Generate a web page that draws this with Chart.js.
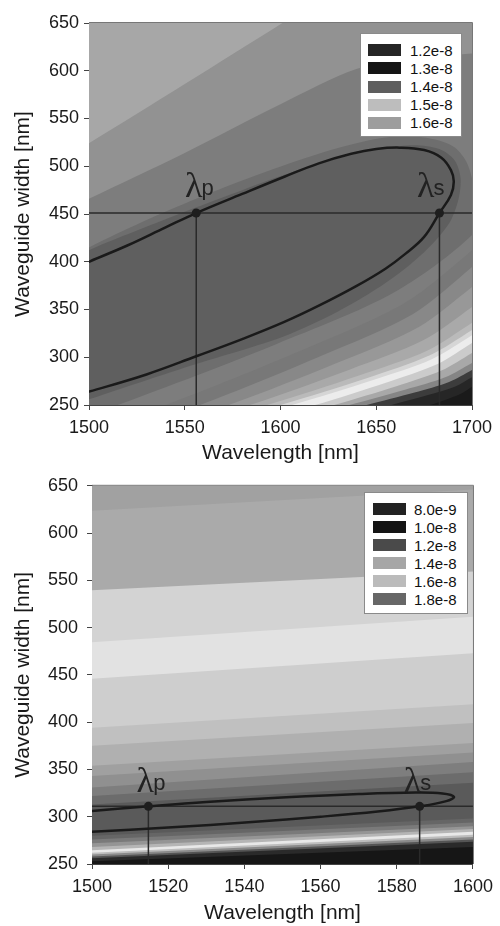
<!DOCTYPE html>
<html>
<head>
<meta charset="utf-8">
<script src="https://cdn.jsdelivr.net/npm/chart.js@4.4.1/dist/chart.umd.min.js"></script>
<style>
  body { margin: 0; background: #fff; font-family: 'Liberation Sans', Arial, sans-serif; }
  .panel { position: relative; width: 500px; }
  canvas { display: block; }
  .legend { position: absolute; background: #fff; border: 1px solid #8a8a8a; box-sizing: border-box; }
  .legend .sw { position: absolute; width: 33px; height: 12px; }
  .legend .lb { position: absolute; font-size: 15px; line-height: 15px; color: #111; white-space: nowrap; }
</style>
</head>
<body>
<div class="panel" id="panel1" style="height:466px"><canvas id="c1" width="500" height="466"></canvas></div>
<div class="panel" id="panel2" style="height:460px"><canvas id="c2" width="500" height="460"></canvas></div>
<script>
const FONT = "'Liberation Sans', Arial, sans-serif";

// ---------- top panel (1500-1700 nm) ----------
const p1XRange = [1500, 1700];
const p1YRange = [250, 650];
const p1XStep = 50;
const p1Background = '#a7a7a7';
// filled contour regions, painted in this order (each one over the previous)
const p1Regions = [
  [[1480,500],[1500,524],[1550,586],[1601,650],[1625,680],[1760,680],[1760,200],[1480,200]],
  [[1480,446],[1500,466],[1550,514],[1600,565],[1640,602],[1670,612],[1700,618],[1720,621],[1760,621],[1760,200],[1480,200]],
  [[1480,392],[1500,415],[1528,442],[1556,466],[1580,485],[1602,501],[1630,519],[1655,530],[1675,530],[1690,521],[1697,505],[1701,480],[1704,455],[1700,428],[1659,367.5],[1598,314],[1515,250],[1495,238],[1480,228]],
  [[1480,243],[1500,256],[1530,276],[1556,293],[1584,310],[1602,322],[1630,348],[1655,378],[1675,410],[1688,440],
   [1693,466],[1694,488],[1691,506],[1683,518],[1670,522],[1655,519],[1630,508],[1602,491],[1580,475],[1556,457],[1528,435],[1500,412],[1480,390]],
  [[1520,240],[1540,250],[1612,308],[1665,357],[1700,412],[1710,432],[1790,200]],
  [[1538,240],[1558,250],[1622,302],[1669,345],[1700,394.5],[1710,414],[1790,200]],
  [[1553,240],[1573,250],[1630,294.5],[1672,331.5],[1700,373.6],[1710,391],[1790,200]],
  [[1564,240],[1584,250],[1636,287],[1674.5,317.7],[1700,352.6],[1710,368],[1790,200]],
  [[1573,240],[1593,250],[1641,281],[1676.5,306.8],[1700,336],[1710,350],[1790,200]],
  [[1580,240],[1600,250],[1645,278],[1678,302],[1700,328.5],[1710,342],[1790,200]],
  [[1586,240],[1606,250],[1648,276],[1679,298],[1700,323],[1710,336],[1790,200]],
  [[1598,240],[1618,250],[1655,273.4],[1682,293],[1700,315],[1710,327],[1790,200]],
  [[1608,240],[1628,250],[1660.5,269.6],[1684,286],[1700,304.5],[1710,316],[1790,200]],
  [[1616,240],[1636,250],[1665,266],[1686,279],[1700,294],[1710,305],[1790,200]],
  [[1625,240],[1645,250],[1670,263],[1688,274],[1700,286.6],[1710,297],[1790,200]],
  [[1638,240],[1658,250],[1677,260.4],[1691,269],[1700,279],[1710,289],[1790,200]],
  [[1658,242],[1678,250],[1688,256.8],[1695,262.5],[1700,269],[1710,279],[1790,200]]
];
const p1RegionColors = ['#929292','#7d7d7d','#6e6e6e','#5f5f5f','#787878','#888888','#989898','#a9a9a9',
  '#bababa','#d6d6d6','#ececec','#cbcbcb','#a8a8a8','#858585','#3c3c3c','#262626','#1a1a1a'];
const p1Loop = [[1490,391],[1500,400],[1520,417],[1540,436],[1556,451],[1580,471],[1602,489],[1620,503],
  [1637,513],[1650,518],[1662,519.5],[1675,517],[1684,509],[1689,496],[1690.5,484],[1689,470],[1683,451],
  [1675,426],[1665,408],[1655,393],[1640,375],[1620,354],[1602,337],[1580,319],[1556,301],[1530,282],
  [1500,264],[1490,258.5]];
const p1Level = 451;
const p1Points = [1556, 1683];
const p1LamX = [1550.1, 1671.3];
const p1LamY = [467.8, 467.8];
const p1LamSub = ['p', 's'];
const p1LegendLabels = ['1.2e-8', '1.3e-8', '1.4e-8', '1.5e-8', '1.6e-8'];
const p1LegendColors = ['#262626', '#151515', '#5e5e5e', '#bdbdbd', '#9d9d9d'];

// ---------- bottom panel (1500-1600 nm) ----------
const p2XRange = [1500, 1600];
const p2YRange = [250, 650];
const p2XStep = 20;
const p2Background = '#a1a1a1';
// contour boundaries: value at left edge / right edge, colour of the band below
const p2Left  = [623.5, 539.4, 484.4, 446, 394, 375, 354, 343, 331, 322, 313, 280, 276, 272, 268, 264.5, 262, 260, 258, 256, 253];
const p2Right = [646, 559.4, 511.4, 473, 419, 399, 378, 368, 358, 347, 336, 298, 294, 290, 287, 284, 281, 278.5, 276, 273.5, 268];
const p2Colors = ['#aaaaaa','#d3d3d3','#e2e2e2','#cecece','#c0c0c0','#b0b0b0','#a0a0a0','#909090','#7e7e7e','#6c6c6c',
  '#5a5a5a','#666666','#7a7a7a','#959595','#b5b5b5','#e8e8e8','#bdbdbd','#8a8a8a','#555555','#2a2a2a','#161616'];
const p2Loop = [[1490,302],[1500,306],[1515,311],[1530,315.5],[1551,320.5],[1570,324],[1585,325.5],[1592,324.5],
  [1595,321],[1593,316.5],[1586,311],[1575,305.5],[1560,300],[1542,294.5],[1520,288.5],[1500,284],[1490,282]];
const p2Level = 311;
const p2Points = [1514.8, 1586];
const p2LamX = [1511.7, 1581.8];
const p2LamY = [326.6, 326.6];
const p2LamSub = ['p', 's'];
const p2LegendLabels = ['8.0e-9', '1.0e-8', '1.2e-8', '1.4e-8', '1.6e-8', '1.8e-8'];
const p2LegendColors = ['#222222', '#141414', '#4a4a4a', '#a6a6a6', '#bbbbbb', '#676767'];

const xy = p => ({x: p[0], y: p[1]});

function regionSets(regions, colors, tension) {
  return regions.map((pts, i) => ({
    data: pts.map(xy),
    backgroundColor: colors[i],
    borderWidth: 0,
    pointRadius: 0,
    fill: 'shape',
    tension: tension,
    order: 200 - i
  }));
}

function markSets(loop, level, xr, yr, pts) {
  const sets = [];
  sets.push({ data: loop.map(xy), borderColor: '#1a1a1a', borderWidth: 2.5, pointRadius: 0, tension: 0.4, fill: false, order: 2, clip: 0 });
  sets.push({ data: [{x: xr[0], y: level}, {x: xr[1], y: level}], borderColor: '#2a2a2a', borderWidth: 1.5, pointRadius: 0, fill: false, order: 3, clip: 0 });
  pts.forEach(px => {
    sets.push({ data: [{x: px, y: level}, {x: px, y: yr[0]}], borderColor: '#2a2a2a', borderWidth: 1.5, pointRadius: 0, fill: false, order: 3, clip: 0 });
  });
  sets.push({ data: pts.map(px => ({x: px, y: level})), showLine: false, pointRadius: 4.5, pointBackgroundColor: '#1e1e1e', pointBorderWidth: 0, order: 1 });
  return sets;
}

const panelDeco = {
  id: 'panelDeco',
  beforeDatasetsDraw(chart, args, opts) {
    const a = chart.chartArea, ctx = chart.ctx;
    ctx.save();
    ctx.fillStyle = opts.background;
    ctx.fillRect(a.left, a.top, a.right - a.left, a.bottom - a.top);
    ctx.restore();
  },
  afterDatasetsDraw(chart, args, opts) {
    const ctx = chart.ctx, a = chart.chartArea;
    const sx = chart.scales.x, sy = chart.scales.y;
    ctx.save();
    ctx.strokeStyle = '#777';
    ctx.lineWidth = 1;
    ctx.beginPath();
    ctx.moveTo(a.left, a.top - 0.5);
    ctx.lineTo(a.right + 0.5, a.top - 0.5);
    ctx.lineTo(a.right + 0.5, a.bottom);
    ctx.stroke();
    ctx.fillStyle = '#222';
    ctx.textBaseline = 'alphabetic';
    ctx.textAlign = 'left';
    opts.lamX.forEach((v, i) => {
      const x = sx.getPixelForValue(v);
      const y = sy.getPixelForValue(opts.lamY[i]);
      ctx.font = "36px 'Liberation Serif', 'DejaVu Serif', serif";
      ctx.fillText('\u03bb', x, y);
      const w = ctx.measureText('\u03bb').width;
      ctx.font = '22px ' + FONT;
      ctx.fillText(opts.lamSub[i], x + w * 0.95, y - 2);
    });
    ctx.restore();
  }
};

function axis(range, step, title, size, tickPad, titlePad) {
  return {
    type: 'linear', min: range[0], max: range[1],
    ticks: { stepSize: step, font: {family: FONT, size: 18}, color: '#1a1a1a', padding: tickPad,
             maxRotation: 0, autoSkip: false, callback: v => String(v) },
    grid: { drawOnChartArea: false, drawTicks: true, tickLength: 5, color: '#444' },
    border: { display: true, color: '#444', width: 1 },
    title: { display: true, text: title, font: {family: FONT, size: 21}, color: '#1a1a1a', padding: {top: titlePad, bottom: 0} },
    afterFit: s => { if (s.isHorizontal()) s.height = size; else s.width = size; }
  };
}

function makeChart(id, cfg) {
  return new Chart(document.getElementById(id), {
    type: 'line',
    data: { datasets: cfg.datasets },
    options: {
      responsive: false, animation: false, devicePixelRatio: 1,
      layout: { padding: cfg.padding },
      elements: { line: { capBezierPoints: false } },
      plugins: {
        legend: { display: false }, tooltip: { enabled: false },
        panelDeco: { background: cfg.background, lamX: cfg.lamX, lamY: cfg.lamY, lamSub: cfg.lamSub }
      },
      scales: { x: cfg.x, y: cfg.y }
    },
    plugins: [panelDeco]
  });
}

function legend(panelId, labels, colors, box) {
  const el = document.createElement('div');
  el.className = 'legend';
  el.style.left = box.left + 'px';
  el.style.top = box.top + 'px';
  el.style.width = box.width + 'px';
  el.style.height = box.height + 'px';
  labels.forEach((t, i) => {
    const c = 16.3 + box.step * i;
    const sw = document.createElement('div');
    sw.className = 'sw';
    sw.style.left = box.sw + 'px';
    sw.style.top = (c - 6) + 'px';
    sw.style.background = colors[i];
    const lb = document.createElement('div');
    lb.className = 'lb';
    lb.style.left = '49px';
    lb.style.top = (c - 7.4) + 'px';
    lb.textContent = t;
    el.appendChild(sw);
    el.appendChild(lb);
  });
  document.getElementById(panelId).appendChild(el);
}

// panel 1
makeChart('c1', {
  datasets: regionSets(p1Regions, p1RegionColors, 0.3).concat(markSets(p1Loop, p1Level, p1XRange, p1YRange, p1Points)),
  padding: { top: 23, right: 28, left: 0, bottom: 0 },
  background: p1Background,
  lamX: p1LamX, lamY: p1LamY, lamSub: p1LamSub,
  x: axis(p1XRange, p1XStep, 'Wavelength [nm]', 61, 7, 1),
  y: axis(p1YRange, 50, 'Waveguide width [nm]', 89, 5, 10.4)
});
legend('panel1', p1LegendLabels, p1LegendColors, { left: 360, top: 33, width: 102, height: 104, step: 18.1, sw: 7 });

// panel 2
const p2Regions = p2Left.map((l, i) => [[1495, l], [1500, l], [1600, p2Right[i]], [1605, p2Right[i]], [1605, 200], [1495, 200]]);
makeChart('c2', {
  datasets: regionSets(p2Regions, p2Colors, 0).concat(markSets(p2Loop, p2Level, p2XRange, p2YRange, p2Points)),
  padding: { top: 17, right: 23, left: 0, bottom: 0 },
  background: p2Background,
  lamX: p2LamX, lamY: p2LamY, lamSub: p2LamSub,
  x: axis(p2XRange, p2XStep, 'Wavelength [nm]', 62, 7, 8.4),
  y: axis(p2YRange, 50, 'Waveguide width [nm]', 92, 9, 10.4)
});
legend('panel2', p2LegendLabels, p2LegendColors, { left: 364, top: 26, width: 104, height: 122, step: 18, sw: 8 });
</script>
</body>
</html>
